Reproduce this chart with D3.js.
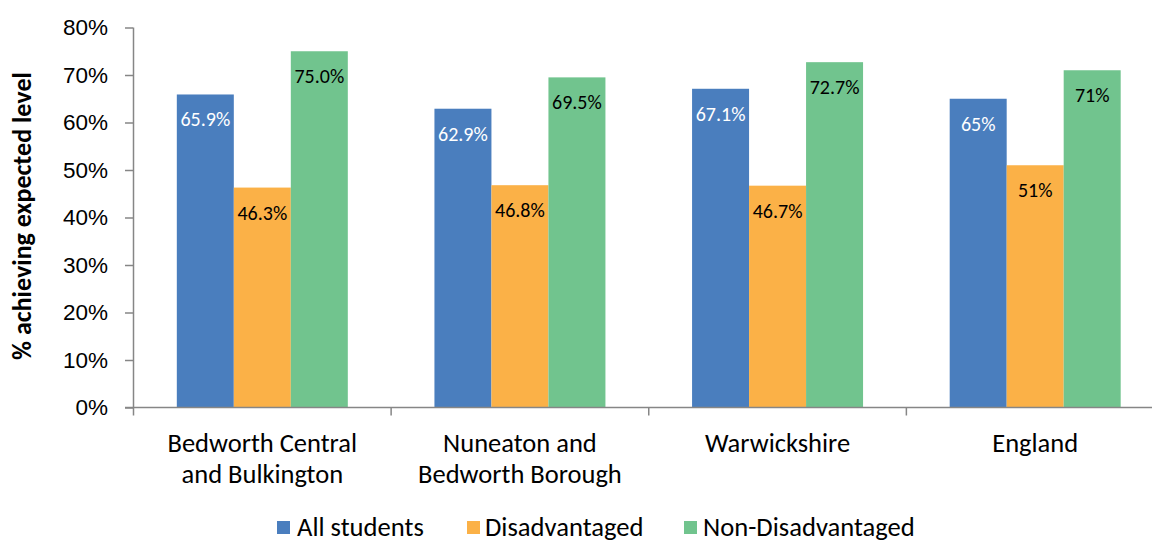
<!DOCTYPE html>
<html>
<head>
<meta charset="utf-8">
<script src="https://cdn.jsdelivr.net/npm/d3@7"></script>
<style>
  html, body { margin: 0; padding: 0; background: #fff; }
  svg { display: block; font-family: Carlito, Calibri, Lato, "Open Sans", sans-serif; }
</style>
</head>
<body>
<svg id="chart" width="1152" height="542"></svg>
<script>
// Areas compared
const categories = [
  ["Bedworth Central", "and Bulkington"],
  ["Nuneaton and", "Bedworth Borough"],
  ["Warwickshire"],
  ["England"]
];
const seriesNames = ["All students", "Disadvantaged", "Non-Disadvantaged"];
const allStudents      = [65.9, 62.9, 67.1, 65];
const disadvantaged    = [46.3, 46.8, 46.7, 51];
const nonDisadvantaged = [75.0, 69.5, 72.7, 71];
const valueLabels = [
  ["65.9%", "62.9%", "67.1%", "65%"],
  ["46.3%", "46.8%", "46.7%", "51%"],
  ["75.0%", "69.5%", "72.7%", "71%"]
];
const yTicks = [0, 10, 20, 30, 40, 50, 60, 70, 80];
const colors = ["#4A7EBE", "#FBB147", "#71C48E"];
const labelColors = ["#ffffff", "#000000", "#000000"];

const series = [allStudents, disadvantaged, nonDisadvantaged];
const svg = d3.select("#chart");

const x0 = d3.scaleBand().domain(d3.range(categories.length)).range([133.5, 1164]).paddingInner(0).paddingOuter(0);
const x1 = d3.scaleBand().domain(d3.range(series.length)).range([0, x0.bandwidth()]).paddingInner(0).paddingOuter(0.76);
const y = d3.scaleLinear().domain([0, 80]).range([407.5, 27.5]);

// Bars
series.forEach((vals, s) => {
  svg.append("g").selectAll("rect").data(vals).join("rect")
    .attr("x", (d, i) => x0(i) + x1(s))
    .attr("y", d => y(d))
    .attr("width", x1.bandwidth())
    .attr("height", d => y(0) - y(d))
    .attr("fill", colors[s]);
});

// Value labels just inside the top of each bar
series.forEach((vals, s) => {
  svg.append("g").selectAll("text").data(vals).join("text")
    .attr("x", (d, i) => x0(i) + x1(s) + x1.bandwidth() / 2)
    .attr("y", d => y(d) + 25)
    .attr("dy", "0.35em")
    .attr("text-anchor", "middle")
    .attr("font-size", 20)
    .attr("fill", labelColors[s])
    .text((d, i) => valueLabels[s][i]);
});

// Y axis
const yAxis = svg.append("g")
  .attr("transform", "translate(133,0)")
  .call(d3.axisLeft(y).tickValues(yTicks).tickFormat(d => d + "%").tickSize(8).tickPadding(17));
yAxis.selectAll("text").attr("font-size", 22.5).attr("fill", "#000").attr("font-family", null);
yAxis.select(".domain").attr("stroke", "#868686").attr("stroke-width", 1.5).attr("d", "M0.5,27.5V407.5");
yAxis.selectAll(".tick line").attr("stroke", "#868686").attr("stroke-width", 1.5);

// X axis line with category boundary ticks
const xAxisG = svg.append("g");
xAxisG.append("line")
  .attr("x1", 125).attr("x2", 1164)
  .attr("y1", y(0)).attr("y2", y(0))
  .attr("stroke", "#868686").attr("stroke-width", 1.5);
const boundaries = d3.range(categories.length + 1).map(i => i < categories.length ? x0(i) : x0(i - 1) + x0.bandwidth());
xAxisG.selectAll("line.tk").data(boundaries).join("line")
  .attr("class", "tk")
  .attr("x1", d => d).attr("x2", d => d)
  .attr("y1", y(0)).attr("y2", y(0) + 8)
  .attr("stroke", "#868686").attr("stroke-width", 1.5);

// Category labels
const catG = svg.append("g");
categories.forEach((lines, i) => {
  const cx = x0(i) + x0.bandwidth() / 2;
  const t = catG.append("text")
    .attr("text-anchor", "middle")
    .attr("font-size", 26.5)
    .attr("fill", "#000");
  lines.forEach((ln, k) => {
    t.append("tspan")
      .attr("x", cx)
      .attr("y", 443 + k * 31)
      .attr("dy", "0.35em")
      .text(ln);
  });
});

// Y axis title
svg.append("text")
  .attr("transform", "translate(22,216) rotate(-90)")
  .attr("text-anchor", "middle")
  .attr("dy", "0.35em")
  .attr("font-size", 26)
  .attr("font-weight", "bold")
  .attr("fill", "#000")
  .text("% achieving expected level");

// Legend
const legendItems = [
  { sx: 277, tx: 297 },
  { sx: 467, tx: 485 },
  { sx: 684, tx: 703 }
];
const legend = svg.append("g");
legendItems.forEach((it, s) => {
  legend.append("rect")
    .attr("x", it.sx).attr("y", 521)
    .attr("width", 13).attr("height", 13)
    .attr("fill", colors[s]);
  legend.append("text")
    .attr("x", it.tx).attr("y", 527)
    .attr("dy", "0.35em")
    .attr("font-size", 26.6)
    .attr("fill", "#000")
    .text(seriesNames[s]);
});
</script>
</body>
</html>
